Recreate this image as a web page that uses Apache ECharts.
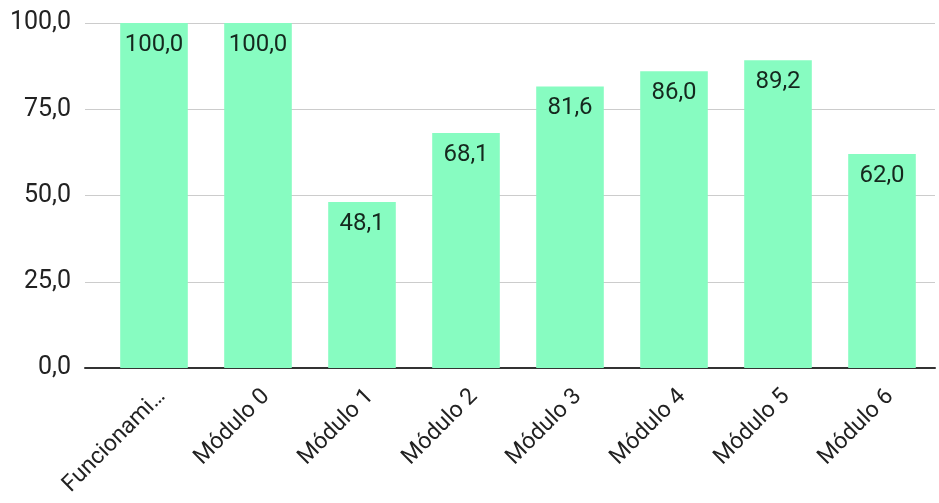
<!DOCTYPE html>
<html><head><meta charset="utf-8">
<script src="https://cdn.jsdelivr.net/npm/echarts@6/dist/echarts.min.js"></script>
<style>html,body{margin:0;padding:0;background:#fff}#c{width:939px;height:503px}</style>
</head><body><div id="c"></div>
<script>
const categories = ["Funcionami…","Módulo 0","Módulo 1","Módulo 2","Módulo 3","Módulo 4","Módulo 5","Módulo 6"];
const values = [100.0,100.0,48.1,68.1,81.6,86.0,89.2,62.0];
const yTicks = [0,25,50,75,100];
const fmt = v => v.toFixed(1).replace('.', ',');
const chart = echarts.init(document.getElementById('c'));
chart.setOption({
  animation:false,
  textStyle:{fontFamily:'Roboto'},
  grid:[
    {left:102,right:5,top:23,bottom:135,containLabel:false},
    {left:85,right:4,top:23,bottom:135,containLabel:false}
  ],
  xAxis:[
    {type:'category',data:categories,gridIndex:0,
      axisLine:{show:false},axisTick:{show:false},
      axisLabel:{rotate:45,fontSize:23,color:'#222',fontFamily:'Roboto',margin:17,interval:0,verticalAlign:'top'}},
    {type:'value',gridIndex:1,min:0,max:1,show:true,
      axisLine:{show:true,onZero:false,lineStyle:{color:'#333',width:2}},axisTick:{show:false},
      axisLabel:{show:false},splitLine:{show:false}}
  ],
  yAxis:[
    {type:'value',gridIndex:0,min:0,max:100,interval:25,
      axisLine:{show:false},axisTick:{show:false},splitLine:{show:false},axisLabel:{show:false}},
    {type:'value',gridIndex:1,min:0,max:100,interval:25,z:0,
      axisLine:{show:false},axisTick:{show:false},
      splitLine:{lineStyle:{color:'#ccc',width:1}},
      axisLabel:{formatter:v=>fmt(v),fontSize:25,color:'#222',fontFamily:'Roboto',margin:14}}
  ],
  series:[{type:'bar',data:values,barWidth:'65%',xAxisIndex:0,yAxisIndex:0,z:3,
    itemStyle:{color:'#87fcc1'},
    label:{show:true,position:'insideTop',distance:10,formatter:p=>fmt(p.value),fontSize:24,color:'#15281e',fontFamily:'Roboto'}}]
});
</script></body></html>
